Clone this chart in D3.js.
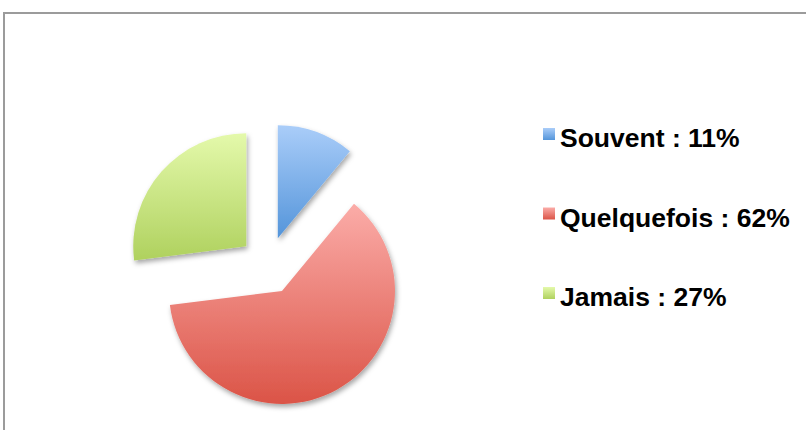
<!DOCTYPE html>
<html>
<head>
<meta charset="utf-8">
<script src="https://cdn.jsdelivr.net/npm/d3@7"></script>
<style>
  html, body { margin: 0; padding: 0; background: #fff; }
  svg { display: block; }
</style>
</head>
<body>
<svg id="chart" width="806" height="430"></svg>
<script>
const categories = ["Souvent", "Quelquefois", "Jamais"];
const values = [11, 62, 27];
const labels = ["Souvent : 11%", "Quelquefois : 62%", "Jamais : 27%"];
const colorTop = ["#aacdf9", "#fbaca8", "#e4f9ab"];
const colorBottom = ["#5495da", "#db5447", "#afd15e"];

const svg = d3.select("#chart");
const defs = svg.append("defs");

categories.forEach((c, i) => {
  const g = defs.append("linearGradient")
    .attr("id", "grad" + i)
    .attr("x1", 0).attr("y1", 0).attr("x2", 0).attr("y2", 1);
  g.append("stop").attr("offset", "0%").attr("stop-color", colorTop[i]);
  g.append("stop").attr("offset", "100%").attr("stop-color", colorBottom[i]);
});

const f = defs.append("filter").attr("id", "shadow")
  .attr("x", "-20%").attr("y", "-20%").attr("width", "140%").attr("height", "140%");
f.append("feDropShadow").attr("dx", 1.5).attr("dy", 3).attr("stdDeviation", 2.5)
  .attr("flood-color", "#000").attr("flood-opacity", 0.35);

// frame
svg.append("path")
  .attr("d", "M4,432 L4,13 L810,13")
  .attr("fill", "none").attr("stroke", "#9b9b9b").attr("stroke-width", 2);

const cx = 268, cy = 265.5, r = 113, explode = 29;
const pie = d3.pie().sort(null).value(d => d);
const arcs = pie(values);
const arc = d3.arc().innerRadius(0).outerRadius(r);

const g = svg.append("g").attr("transform", `translate(${cx},${cy})`);
g.selectAll("path.slice")
  .data(arcs)
  .join("path")
  .attr("class", "slice")
  .attr("d", arc)
  .attr("fill", (d, i) => `url(#grad${i})`)
  .attr("filter", "url(#shadow)")
  .attr("transform", d => {
    const a = (d.startAngle + d.endAngle) / 2;
    return `translate(${explode * Math.sin(a)},${-explode * Math.cos(a)})`;
  });

// legend
const legY = d3.scalePoint().domain(categories).range([147, 306]);
const leg = svg.append("g");
const items = leg.selectAll("g.item").data(categories).join("g").attr("class", "item")
  .attr("transform", d => `translate(0,${legY(d)})`);
items.append("rect")
  .attr("x", 543).attr("y", -19).attr("width", 12).attr("height", 12)
  .attr("fill", (d, i) => `url(#grad${i})`);
items.append("text")
  .attr("x", 560).attr("y", 0)
  .attr("font-family", "Liberation Sans, Arial, Helvetica, sans-serif")
  .attr("font-weight", "bold")
  .attr("font-size", 26.5)
  .attr("fill", "#000")
  .text((d, i) => labels[i]);
</script>
</body>
</html>
